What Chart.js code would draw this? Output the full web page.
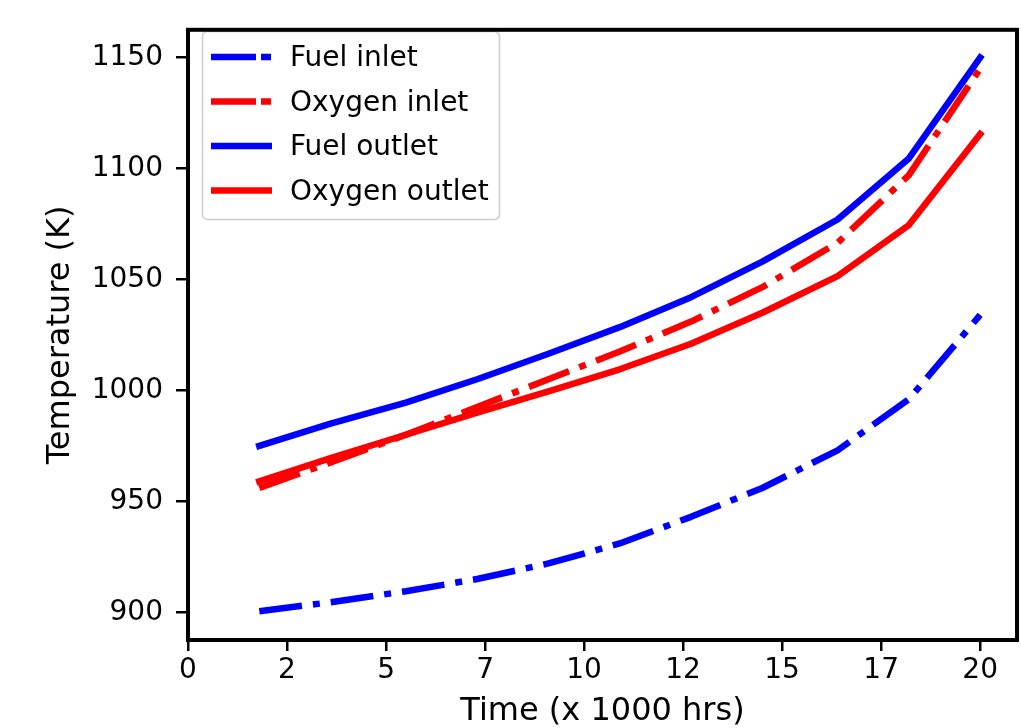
<!DOCTYPE html>
<html>
<head>
<meta charset="utf-8">
<script src="https://cdn.jsdelivr.net/npm/chart.js@4.4.1/dist/chart.umd.min.js"></script>
<style>
    html, body { margin: 0; padding: 0; background: #ffffff; }
    #wrap { width: 1021px; height: 728px; }
</style>
</head>
<body>
<div id="wrap"><canvas id="tempChart"></canvas></div>
<script>
// Time axis (x 1000 hrs)
const timeValues = [1.8, 3.6, 5.5, 7.3, 9.1, 10.9, 12.7, 14.5, 16.4, 18.2, 20.0];

// Temperatures (K)
const fuelInlet = [900.5, 904.5, 909.5, 915, 922, 931, 943, 956, 973, 996, 1034];
const oxygenInlet = [956, 967.5, 980, 992.5, 1005, 1017.5, 1031, 1046.5, 1066.5, 1097, 1145];
const fuelOutlet = [975, 985, 994.5, 1005, 1016.5, 1028.5, 1042, 1058, 1077, 1104.5, 1150];
const oxygenOutlet = [959, 969.5, 980, 990, 999.5, 1009.5, 1021, 1035, 1051.5, 1074.5, 1115.5];

const seriesLabels = ['Fuel inlet', 'Oxygen inlet', 'Fuel outlet', 'Oxygen outlet'];
const yTicks = [900, 950, 1000, 1050, 1100, 1150];

const FONT = "'DejaVu Sans', sans-serif";
const DASH_DOT = [43, 11, 7, 11];

function toPoints(values) {
    return values.map(function(v, i) {
        return { x: timeValues[i], y: v };
    });
}

function makeDataset(label, values, color, dashed, order) {
    return {
        label: label,
        data: toPoints(values),
        borderColor: color,
        backgroundColor: color,
        borderWidth: 6.5,
        borderDash: dashed ? DASH_DOT : [],
        borderCapStyle: dashed ? 'butt' : 'square',
        borderJoinStyle: 'round',
        pointRadius: 0,
        tension: 0,
        fill: false,
        order: order
    };
}

// legend drawn inside the plot, upper left
const legendBox = {
    id: 'legendBox',
    afterDatasetsDraw: function(chart) {
        const ctx = chart.ctx;
        ctx.save();
        ctx.beginPath();
        ctx.roundRect(202.5, 31.5, 297, 188, 5);
        ctx.fillStyle = 'rgba(255, 255, 255, 0.8)';
        ctx.fill();
        ctx.strokeStyle = '#cccccc';
        ctx.lineWidth = 1.5;
        ctx.stroke();

        chart.data.datasets.forEach(function(ds, i) {
            const y = 57 + i * 44.5;
            ctx.beginPath();
            ctx.strokeStyle = ds.borderColor;
            ctx.lineWidth = ds.borderWidth;
            ctx.lineCap = 'butt';
            ctx.setLineDash(ds.borderDash.length ? [45, 5, 10, 5] : []);
            ctx.moveTo(211, y);
            ctx.lineTo(272, y);
            ctx.stroke();
            ctx.setLineDash([]);

            ctx.fillStyle = '#000000';
            ctx.font = '28px ' + FONT;
            ctx.textAlign = 'left';
            ctx.textBaseline = 'middle';
            ctx.fillText(ds.label, 290, y + 2);
        });
        ctx.restore();
    }
};

// black frame round the axes
const axesFrame = {
    id: 'axesFrame',
    afterDraw: function(chart) {
        const a = chart.chartArea;
        const ctx = chart.ctx;
        ctx.save();
        ctx.strokeStyle = '#000000';
        ctx.lineWidth = 4;
        ctx.strokeRect(a.left, a.top, a.right - a.left, a.bottom - a.top);
        ctx.restore();
    }
};

const ctx = document.getElementById('tempChart').getContext('2d');
new Chart(ctx, {
    type: 'line',
    data: {
        datasets: [
            makeDataset(seriesLabels[0], fuelInlet, '#0000ff', true, 3),
            makeDataset(seriesLabels[1], oxygenInlet, '#ff0000', true, 2),
            makeDataset(seriesLabels[2], fuelOutlet, '#0000ff', false, 1),
            makeDataset(seriesLabels[3], oxygenOutlet, '#ff0000', false, 0)
        ]
    },
    options: {
        responsive: true,
        maintainAspectRatio: false,
        animation: false,
        layout: {
            padding: { top: 17, right: 4, bottom: 0, left: 0 }
        },
        scales: {
            x: {
                type: 'linear',
                min: 0,
                max: 20.93,
                afterFit: function(scale) { scale.height = 88; },
                grid: {
                    display: true,
                    drawOnChartArea: false,
                    drawTicks: true,
                    tickLength: 11,
                    color: '#000000',
                    lineWidth: 2.5
                },
                border: { display: false },
                ticks: {
                    stepSize: 2.5,
                    includeBounds: false,
                    maxRotation: 0,
                    autoSkip: false,
                    padding: 3,
                    color: '#000000',
                    font: { family: FONT, size: 28 },
                    callback: function(value) {
                        return String(Math.floor(value));
                    }
                },
                title: {
                    display: true,
                    text: 'Time (x 1000 hrs)',
                    color: '#000000',
                    font: { family: FONT, size: 32, lineHeight: 1 },
                    padding: { top: 0, bottom: 0 }
                }
            },
            y: {
                type: 'linear',
                min: 887.5,
                max: 1162.5,
                afterFit: function(scale) { scale.width = 188; },
                afterBuildTicks: function(scale) {
                    scale.ticks = yTicks.map(function(v) { return { value: v }; });
                },
                grid: {
                    display: true,
                    drawOnChartArea: false,
                    drawTicks: true,
                    tickLength: 12,
                    color: '#000000',
                    lineWidth: 2.5
                },
                border: { display: false },
                ticks: {
                    padding: 13,
                    color: '#000000',
                    font: { family: FONT, size: 28 },
                    callback: function(value) {
                        return String(value);
                    }
                },
                title: {
                    display: true,
                    text: 'Temperature (K)',
                    color: '#000000',
                    font: { family: FONT, size: 32, lineHeight: 1 },
                    padding: { top: 45, bottom: 0 }
                }
            }
        },
        plugins: {
            legend: { display: false },
            tooltip: { enabled: false }
        }
    },
    plugins: [legendBox, axesFrame]
});
</script>
</body>
</html>
